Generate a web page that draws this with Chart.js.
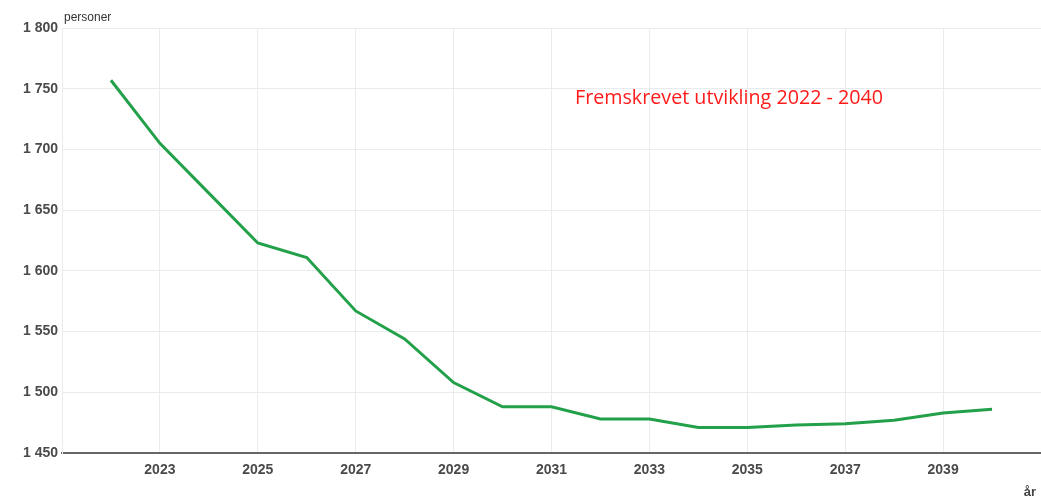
<!DOCTYPE html>
<html><head><meta charset="utf-8">
<script src="https://cdn.jsdelivr.net/npm/chart.js@4/dist/chart.umd.min.js"></script>
<style>html,body{margin:0;padding:0;background:#fff}#wrap{width:1041px;height:500px}</style>
</head><body><div id="wrap"><canvas id="c" width="1041" height="500"></canvas></div>
<script>
const years = [2022,2023,2024,2025,2026,2027,2028,2029,2030,2031,2032,2033,2034,2035,2036,2037,2038,2039,2040];
const persons = [1757,1705,1664,1623,1611,1567,1544,1508,1488,1488,1478,1478,1471,1471,1473,1474,1477,1483,1486];
const yTicks = [1450,1500,1550,1600,1650,1700,1750,1800];
const xTickYears = [2023,2025,2027,2029,2031,2033,2035,2037,2039];
const yUnit = 'personer';
const xUnit = 'år';
const note = 'Fremskrevet utvikling 2022 - 2040';

const fmt = v => String(v).replace(/\B(?=(\d{3})+(?!\d))/g, '\u00a0');
const tickFont = { size: 14, weight: 'bold', family: '"Liberation Sans", Arial, sans-serif' };

const textPlugin = {
  id: 'texts',
  afterDraw(chart) {
    const ctx = chart.ctx, a = chart.chartArea;
    ctx.save();
    ctx.fillStyle = '#333';
    ctx.font = '12px "Liberation Sans", Arial, sans-serif';
    ctx.textBaseline = 'alphabetic';
    ctx.textAlign = 'left';
    ctx.fillText(yUnit, a.left + 2, 21);
    ctx.font = 'bold 13px "Liberation Sans", Arial, sans-serif';
    ctx.fillStyle = '#444';
    ctx.textAlign = 'right';
    ctx.fillText(xUnit, 1036, 496);
    ctx.fillStyle = '#ff1a1a';
    ctx.font = '19.7px "Open Sans", sans-serif';
    ctx.textAlign = 'left';
    ctx.fillText(note, 575, 104);
    ctx.restore();
  }
};

new Chart(document.getElementById('c'), {
  type: 'line',
  data: { datasets: [{
    data: years.map((y, i) => ({x: y, y: persons[i]})),
    borderColor: '#23a04a', borderWidth: 3, pointRadius: 0, tension: 0, fill: false
  }]},
  options: {
    responsive: false, animation: false,
    layout: { padding: { top: 28, right: 0, left: 0, bottom: 0 } },
    plugins: { legend: { display: false }, tooltip: { enabled: false } },
    scales: {
      x: {
        type: 'linear', min: 2021, max: 2041,
        afterBuildTicks: s => { s.ticks = [2021].concat(xTickYears).map(v => ({value: v})); },
        afterFit: s => { s.height = 47; },
        grid: { color: '#e8ecec', lineWidth: 1, drawTicks: false },
        border: { color: '#666', width: 2 },
        ticks: { padding: 9, color: '#4a4a4a', font: tickFont,
          callback: v => xTickYears.includes(v) ? String(v) : '' }
      },
      y: {
        min: 1450, max: 1800,
        afterBuildTicks: s => { s.ticks = yTicks.map(v => ({value: v})); },
        afterFit: s => { s.width = 62; },
        grid: { color: '#e8ecec', lineWidth: 1, drawTicks: false },
        border: { color: '#e8ecec', width: 1 },
        ticks: { padding: 4, color: '#4a4a4a', font: tickFont,
          callback: v => fmt(v) }
      }
    }
  },
  plugins: [textPlugin]
});
</script></body></html>
